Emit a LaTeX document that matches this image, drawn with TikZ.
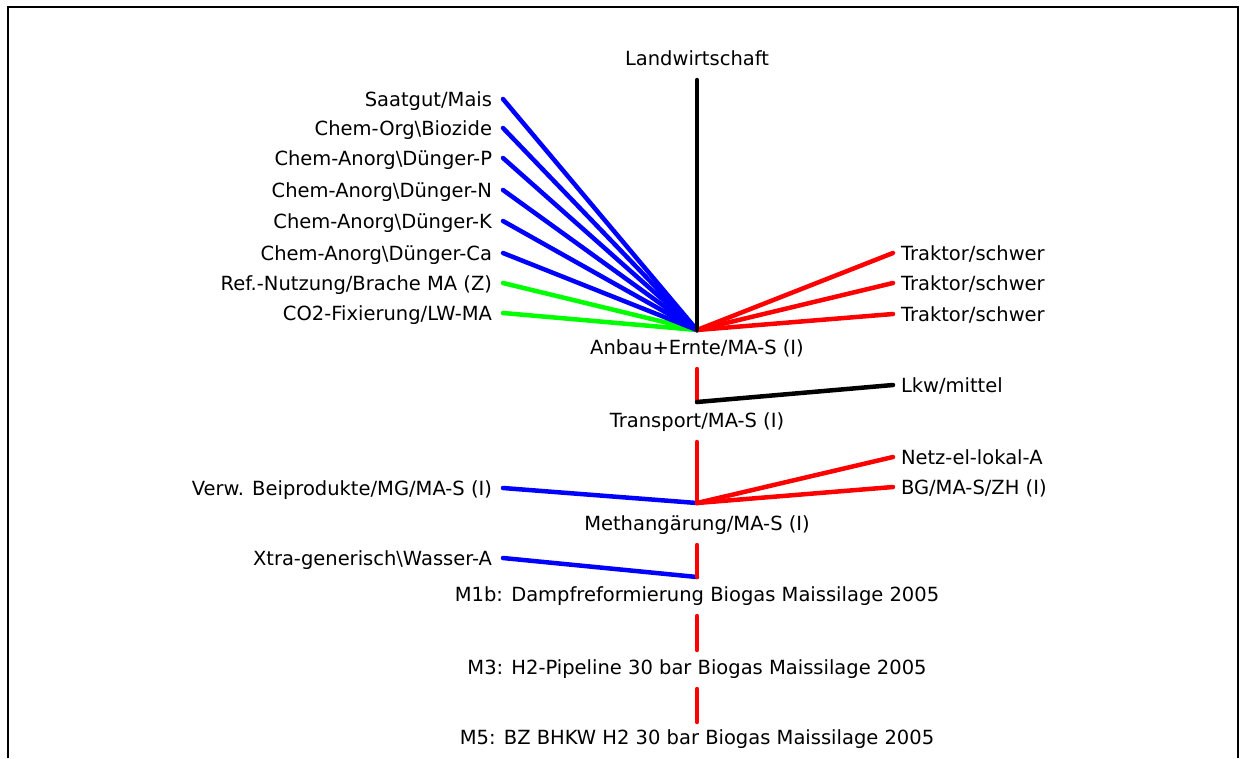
\documentclass[tikz,border=0pt]{standalone}
\usepackage{fontspec}
\setmainfont{DejaVu Sans}
\begin{document}
\begin{tikzpicture}[x=1pt,y=-1pt,
  lbl/.style={font=\fontsize{19.5}{22}\selectfont, text height=16pt, text depth=2pt, inner xsep=0pt, inner ysep=13pt, outer sep=0pt},
  leftlbl/.style={lbl, anchor=east, inner xsep=11pt, inner ysep=0pt},
  rightlbl/.style={lbl, anchor=west, inner xsep=8pt, inner ysep=0pt},
  conn/.style={line width=4.5pt, line cap=round},
  bl/.style={conn, draw={rgb,255:red,0;green,0;blue,255}},
  gr/.style={conn, draw={rgb,255:red,0;green,255;blue,0}},
  rd/.style={conn, draw={rgb,255:red,255;green,0;blue,0}},
  bk/.style={conn, draw=black},
  frame/.style={line width=2.5pt, draw=black}]
\useasboundingbox (0,0) rectangle (1246,758);
\fill[white] (0,0) rectangle (1246,758);
\draw[frame] (8,758) -- (8,7) -- (1238,7) -- (1238,758);

% main chain labels
\node[lbl] (landw)  at (697,58)  {Landwirtschaft};
\node[lbl] (anbau)  at (697,347) {Anbau+Ernte/MA-S (I)};
\node[lbl] (transp) at (697,420) {Transport/MA-S (I)};
\node[lbl] (meth)   at (697,523) {Methangärung/MA-S (I)};
\node[lbl] (mib)    at (697,594) {M1b: Dampfreformierung Biogas Maissilage 2005};
\node[lbl] (mdrei)  at (697,667) {M3: H2-Pipeline 30 bar Biogas Maissilage 2005};
\node[lbl] (mfuenf) at (697,737) {M5: BZ BHKW H2 30 bar Biogas Maissilage 2005};

% hub points
\coordinate (hA) at (697,330);
\coordinate (hT) at (697,402);
\coordinate (hM) at (697,503);
\coordinate (hD) at (697,577);
\coordinate (hP) at (697,650);
\coordinate (hB) at (697,722);

% left inputs
\node[leftlbl] (saat) at (503,99)  {Saatgut/Mais};
\node[leftlbl] (corg) at (503,128) {Chem-Org\textbackslash Biozide};
\node[leftlbl] (dp)   at (503,158) {Chem-Anorg\textbackslash Dünger-P};
\node[leftlbl] (dn)   at (503,190) {Chem-Anorg\textbackslash Dünger-N};
\node[leftlbl] (dk)   at (503,221) {Chem-Anorg\textbackslash Dünger-K};
\node[leftlbl] (dca)  at (503,253) {Chem-Anorg\textbackslash Dünger-Ca};
\node[leftlbl] (refn) at (503,283) {Ref.-Nutzung/Brache MA (Z)};
\node[leftlbl] (cofx) at (503,313) {CO2-Fixierung/LW-MA};
\node[leftlbl] (verw) at (503,488) {Verw. Beiprodukte/MG/MA-S (I)};
\node[leftlbl] (xtra) at (503,558) {Xtra-generisch\textbackslash Wasser-A};

% right inputs
\node[rightlbl] (tra) at (893,253) {Traktor/schwer};
\node[rightlbl] (trb) at (893,283) {Traktor/schwer};
\node[rightlbl] (trc) at (893,314) {Traktor/schwer};
\node[rightlbl] (lkw) at (893,385) {Lkw/mittel};
\node[rightlbl] (netz) at (893,457) {Netz-el-lokal-A};
\node[rightlbl] (bgz) at (893,487) {BG/MA-S/ZH (I)};

% connectors
\draw[gr] (refn.east) -- (hA);
\draw[gr] (cofx.east) -- (hA);
\draw[bl] (saat.east) -- (hA);
\draw[bl] (corg.east) -- (hA);
\draw[bl] (dp.east) -- (hA);
\draw[bl] (dn.east) -- (hA);
\draw[bl] (dk.east) -- (hA);
\draw[bl] (dca.east) -- (hA);
\draw[rd] (hA) -- (tra.west);
\draw[rd] (hA) -- (trb.west);
\draw[rd] (hA) -- (trc.west);
\draw[bk] (landw.south) -- (hA);

\draw[rd] (anbau.south) -- (hT);
\draw[bk] (hT) -- (lkw.west);

\draw[bl] (verw.east) -- (hM);
\draw[rd] (transp.south) -- (hM);
\draw[rd] (hM) -- (netz.west);
\draw[rd] (hM) -- (bgz.west);

\draw[bl] (xtra.east) -- (hD);
\draw[rd] (meth.south) -- (hD);

\draw[rd] (mib.south) -- (hP);
\draw[rd] (mdrei.south) -- (hB);
\end{tikzpicture}
\end{document}
